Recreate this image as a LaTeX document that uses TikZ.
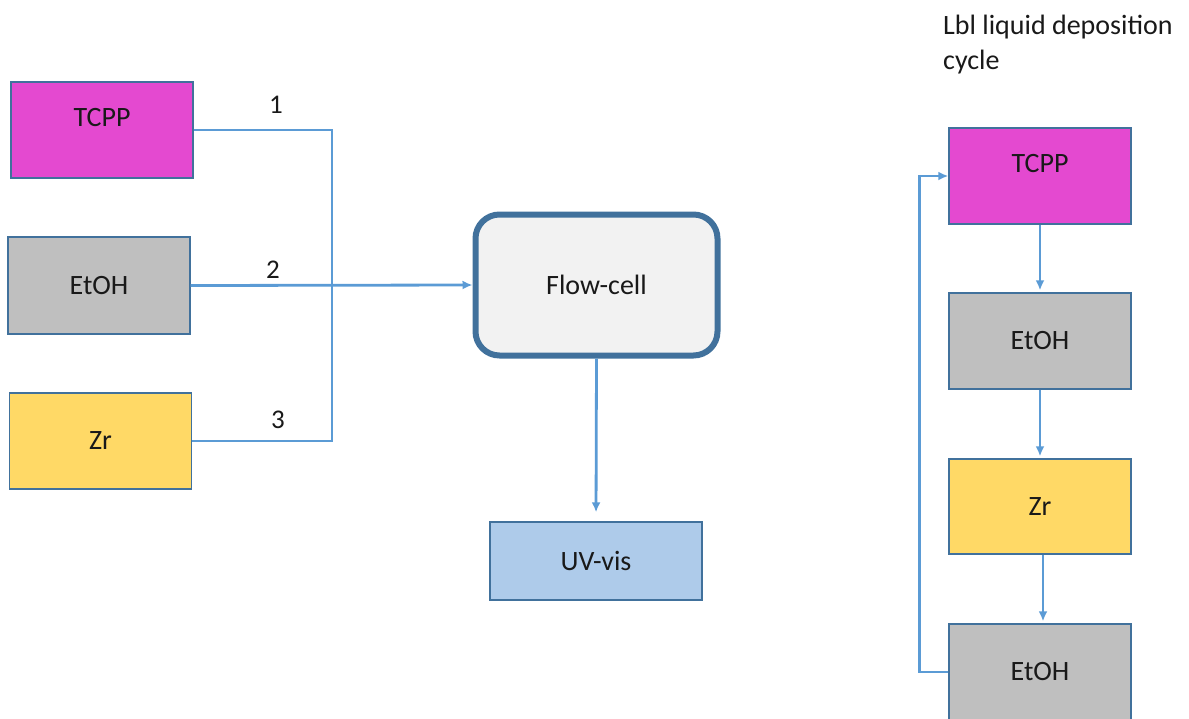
\documentclass[tikz,border=0pt]{standalone}
\usepackage{fontspec}
\setmainfont{Carlito}
\usetikzlibrary{arrows.meta}

\definecolor{edgeblue}{HTML}{41719C}
\definecolor{lineblue}{HTML}{5B9BD5}
\definecolor{magentafill}{HTML}{E449D0}
\definecolor{grayfill}{HTML}{BFBFBF}
\definecolor{goldfill}{HTML}{FFD966}
\definecolor{cellfill}{HTML}{F2F2F2}
\definecolor{uvfill}{HTML}{AECBEA}

\begin{document}
\begin{tikzpicture}[x=1pt, y=-1pt,
  txt/.style={font=\fontsize{28}{34}\selectfont, text=black!90},
  box/.style={txt, draw=edgeblue, line width=1.4pt, minimum width=182pt,
    minimum height=96pt, inner sep=0pt},
  toplabel/.style={label={[txt, anchor=center, yshift=-36pt]north:#1}},
  cell/.style={txt, draw=edgeblue, line width=6pt, fill=cellfill,
    rounded corners=24pt, minimum width=242pt, minimum height=141pt},
  pipe/.style={draw=lineblue, line width=2.8pt},
  flow/.style={pipe, -{Latex[length=10pt, width=9pt]}},
  num/.style={font=\fontsize{27}{32}\selectfont, text=black!90}
]
\useasboundingbox (0,0) rectangle (1189,718);

% reagent reservoirs
\node[box, fill=magentafill, toplabel=TCPP] (tcpp) at (102,130) {};
\node[box, fill=grayfill, minimum height=97pt] (etoh) at (99,285.5) {EtOH};
\node[box, fill=goldfill] (zr) at (100.5,441) {Zr};

% flow cell and detector
\node[cell] (fc) at (596.5,285) {Flow-cell};
\node[box, fill=uvfill, minimum width=212pt, minimum height=78pt] (uv) at (596,561) {UV-vis};

% supply lines joined on a common bus
\coordinate (bus) at (332,285);
\draw[pipe] (tcpp.east) -- (tcpp.east -| bus) -- (zr.east -| bus) -- (zr.east);
\draw[flow] (etoh.east) -- (fc.west);
\draw[flow, shorten >=9pt] (fc.south) -- (uv.north);

\node[num] (n1) at (276,105) {1};
\node[num] (n2) at (273,270) {2};
\node[num] (n3) at (278,420) {3};

% layer-by-layer cycle
\node[txt, anchor=north west, align=left, inner sep=0pt,
  font=\fontsize{28}{35}\selectfont] (title) at (943,15)
  {Lbl liquid deposition\\cycle};

\node[box, fill=magentafill, toplabel=TCPP] (c1) at (1040,176) {};
\node[box, fill=grayfill] (c2) at (1040,341) {EtOH};
\node[box, fill=goldfill, minimum height=95pt] (c3) at (1040,506.5) {Zr};
\node[box, fill=grayfill] (c4) at (1040,672) {EtOH};

\draw[flow, shorten >=2pt] (c1.south) -- (c2.north);
\draw[flow, shorten >=2pt] (c2.south) -- (c3.north);
\draw[flow, shorten >=2pt] ([xshift=3pt]c3.south) -- ([xshift=3pt]c4.north);
\draw[flow] (c4.west) -- ++(-29,0) |- (c1.west);
\end{tikzpicture}
\end{document}
